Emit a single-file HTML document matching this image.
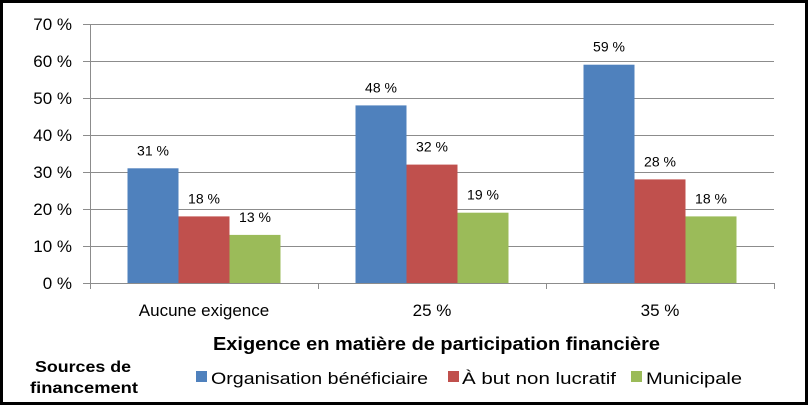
<!DOCTYPE html>
<html><head><meta charset="utf-8"><style>
html,body{margin:0;padding:0;background:#fff}
svg{display:block}
text{font-family:"Liberation Sans",sans-serif;fill:#000}
</style></head><body>
<svg id="c" width="809" height="406">
<rect x="1.5" y="1.5" width="805" height="402" fill="#fff" stroke="#000" stroke-width="3"/>
<g id="g"></g>
<text x="213" y="350" font-size="18" font-weight="bold" textLength="447" lengthAdjust="spacingAndGlyphs">Exigence en matière de participation financière</text>
<text x="35" y="372" font-size="16" font-weight="bold" textLength="96" lengthAdjust="spacingAndGlyphs">Sources de</text>
<text x="30" y="393" font-size="16" font-weight="bold" textLength="108" lengthAdjust="spacingAndGlyphs">financement</text>
<g>
<rect x="196" y="371" width="11" height="11" fill="#4f81bd"/>
<text x="211" y="384" font-size="17" textLength="217" lengthAdjust="spacingAndGlyphs">Organisation bénéficiaire</text>
<rect x="448" y="371" width="11" height="11" fill="#c0504d"/>
<text x="462" y="384" font-size="17" textLength="154" lengthAdjust="spacingAndGlyphs">À but non lucratif</text>
<rect x="631" y="371" width="11" height="11" fill="#9bbb59"/>
<text x="646" y="384" font-size="17" textLength="96" lengthAdjust="spacingAndGlyphs">Municipale</text>
</g>
</svg>
<script>
const categories=["Aucune exigence","25 %","35 %"];
const organisation=[31,48,59];
const nonLucratif=[18,32,28];
const municipale=[13,19,18];
const yTicks=[0,10,20,30,40,50,60,70];
const series=[{n:"organisation",v:organisation,c:"#4f81bd"},{n:"but-non-lucratif",v:nonLucratif,c:"#c0504d"},{n:"municipale",v:municipale,c:"#9bbb59"}];
const X0=90,X1=774,Y0=283,Y70=24;
const y=v=>Y0-(v/70)*(Y0-Y70);
const gw=(X1-X0)/categories.length;
const g=document.getElementById('g');
const NS="http://www.w3.org/2000/svg";
function mk(t,a){const e=document.createElementNS(NS,t);for(const k in a)e.setAttribute(k,a[k]);g.appendChild(e);return e;}
yTicks.forEach(t=>{
 const l=mk('line',{x1:83,x2:X1,y1:y(t)+.5,y2:y(t)+.5,stroke:'#8c8c8c','stroke-width':1});
 
 
 const tx=mk('text',{x:72,y:y(t)+6,'font-size':17,'text-anchor':'end'});tx.textContent=t+' %';
 
 
});
const ax=mk('line',{x1:X0+.5,x2:X0+.5,y1:Y70,y2:Y0,stroke:'#8c8c8c'});


const bw=51;
categories.forEach((c,i)=>{
 const gx=X0+i*gw;
 series.forEach((s,j)=>{
  const bx=gx+(gw-3*bw)/2+j*bw;
  const r=mk('rect',{x:bx,y:y(s.v[i]),width:bw,height:Y0-y(s.v[i]),fill:s.c});
  
  
  const t=mk('text',{x:bx+bw/2,y:y(s.v[i])-13,'font-size':14,'text-anchor':'middle'});t.textContent=s.v[i]+' %';
  
  
 });
 const ct=mk('text',{x:gx+gw/2,y:316,'font-size':17,'text-anchor':'middle'});ct.textContent=c;
 
 
});
for(let i=0;i<=categories.length;i++){
 const tk=mk('line',{x1:X0+i*gw+.5,x2:X0+i*gw+.5,y1:Y0,y2:Y0+6,stroke:'#8c8c8c'});
 
 
}
</script>
</body></html>
